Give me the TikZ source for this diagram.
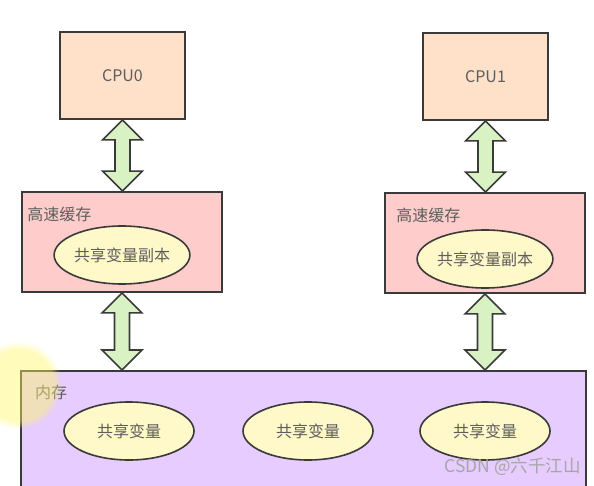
\documentclass[tikz,border=0pt]{standalone}
\usepackage{fontspec}
\setmainfont{Noto Sans CJK SC}
\usetikzlibrary{shapes.geometric,calc,fadings}
\definecolor{edge}{HTML}{3A3A3A}
\definecolor{txt}{HTML}{5E5E5E}
\definecolor{cpufill}{HTML}{FFE0C8}
\definecolor{cachefill}{HTML}{FFCCCC}
\definecolor{memfill}{HTML}{E6CCFF}
\definecolor{varfill}{HTML}{FFF8C8}
\definecolor{arrfill}{HTML}{D8F2C4}
\tikzset{
  box/.style={draw=edge, line width=1.8pt, rectangle, inner sep=0pt, text=txt, font=\fontsize{16}{19}\selectfont},
  cpubox/.style={box, fill=cpufill, minimum width=125pt, minimum height=87pt},
  cachebox/.style={box, fill=cachefill, minimum width=200pt, minimum height=100pt},
  varell/.style={draw=edge, line width=1.6pt, ellipse, fill=varfill, minimum width=130pt, minimum height=58pt, inner sep=0pt, text=txt, font=\fontsize{16}{19}\selectfont},
  boxlabel/.style={text=txt, font=\fontsize{16}{19}\selectfont, inner sep=0pt, anchor=west},
  dblarrow/.style={draw=edge, line width=1.6pt, fill=arrfill, line join=miter},
}
\newcommand{\dblarr}[2]{%
  \draw[dblarrow] let \p1=(#1), \p2=(#2) in
    (\x1,\y1) -- (\x1+20pt,\y1-20pt) -- (\x1+7.5pt,\y1-20pt) -- (\x1+7.5pt,\y2+20pt)
    -- (\x1+20pt,\y2+20pt) -- (\x1,\y2) -- (\x1-20pt,\y2+20pt) -- (\x1-7.5pt,\y2+20pt)
    -- (\x1-7.5pt,\y1-20pt) -- (\x1-20pt,\y1-20pt) -- cycle;}
\begin{document}
\begin{tikzpicture}[x=1pt,y=-1pt]
\useasboundingbox (0,0) rectangle (594,486);
\clip (0,0) rectangle (594,486);
% CPUs
\node[cpubox] (cpu0) at (122.5,75.5) {CPU0};
\node[cpubox] (cpu1) at (485.5,76.5) {CPU1};
% caches
\node[cachebox] (cache0) at (122,242) {};
\node[cachebox] (cache1) at (485,243) {};
\node[boxlabel] (c0lab) at ($(cache0.north west)+(6,23)$) {高速缓存};
\node[boxlabel] (c1lab) at ($(cache1.north west)+(12,23)$) {高速缓存};
\node[varell] (copy0) at (122,255) {共享变量副本};
\node[varell] (copy1) at (485,259) {共享变量副本};
% memory
\node[box, fill=memfill, minimum width=565pt, minimum height=130pt, anchor=north west] (mem) at (20,370) {};
\node[boxlabel] (memlab) at ($(mem.north west)+(15,22)$) {内存};
\node[varell] (v0) at (129,431) {共享变量};
\node[varell] (v1) at (308,431) {共享变量};
\node[varell] (v2) at (485,431) {共享变量};
% arrows
\coordinate (m0) at (cache0.south |- mem.north);
\coordinate (m1) at (cache1.south |- mem.north);
\dblarr{cpu0.south}{cache0.north}
\dblarr{cpu1.south}{cache1.north}
\dblarr{cache0.south}{m0}
\dblarr{cache1.south}{m1}
% highlight glow
\fill[yellow!60, path fading=circle with fuzzy edge 20 percent, fill opacity=0.45] (18,385) circle (44);
% watermark
\node[text=black!35, font=\fontsize{17.5}{20}\selectfont, anchor=east, inner sep=0pt] (wm) at (581,467) {CSDN @六千江山};
\end{tikzpicture}
\end{document}
